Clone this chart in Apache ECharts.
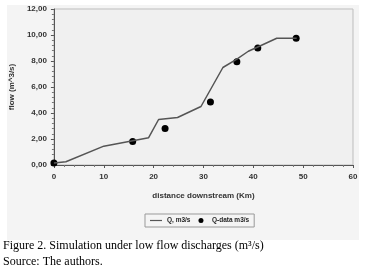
<!DOCTYPE html>
<html>
<head>
<meta charset="utf-8">
<script src="https://cdn.jsdelivr.net/npm/echarts@6/dist/echarts.min.js"></script>
<style>
html, body { margin: 0; padding: 0; background: #fff; }
#main { width: 370px; height: 273px; }
</style>
</head>
<body>
<div id="main"></div>
<script>
// simulated flow (distance km, flow m3/s)
var simDist = [0, 2.4, 10, 19, 21, 24.8, 29.5, 33.9, 36.7, 39, 41, 44.7, 48.7];
var simFlow = [0.15, 0.25, 1.45, 2.1, 3.5, 3.65, 4.5, 7.5, 8.15, 8.75, 9.1, 9.75, 9.75];
// measured points
var obsDist = [0, 15.8, 22.3, 31.4, 36.7, 40.9, 48.6];
var obsFlow = [0.15, 1.8, 2.8, 4.85, 7.95, 9.0, 9.75];

var myChart = echarts.init(document.getElementById('main'));

var lbl = { color: '#333', fontSize: 8, fontWeight: 'bold', fontFamily: 'Liberation Sans' };

option = {
	backgroundColor: '#fff',
	animation: false,
	graphic: [
		{
			type: 'rect', z: -10, silent: true,
			shape: { x: 7, y: 5, width: 352, height: 235 },
			style: { fill: '#f4f4f4' }
		},
		{
			type: 'text', left: 3, top: 240,
			style: { text: 'Figure 2. Simulation under low flow discharges (m³/s)', fill: '#000', font: '12px "Liberation Serif"' }
		},
		{
			type: 'text', left: 3, top: 256,
			style: { text: 'Source: The authors.', fill: '#000', font: '12px "Liberation Serif"' }
		}
	],
	legend: {
		top: 214,
		left: 145,
		itemWidth: 12,
		itemHeight: 5,
		itemGap: 8,
		padding: [3, 5],
		borderColor: '#999',
		borderWidth: 1,
		textStyle: { color: '#222', fontSize: 6.5, fontWeight: 'bold', fontFamily: 'Liberation Sans' },
		data: [
			{ name: 'Q, m3/s', icon: 'path://M0,0H10V1H0Z' },
			{ name: 'Q-data m3/s', icon: 'circle' }
		]
	},
	grid: {
		left: 49.5,
		right: 17,
		top: 9,
		bottom: 108,
		show: true,
		backgroundColor: '#f0f0f0',
		borderColor: '#bdbdbd',
		borderWidth: 1
	},
	xAxis: {
		type: 'value',
		min: 0, max: 60, interval: 10,
		name: 'distance downstream (Km)',
		nameLocation: 'middle',
		nameGap: 27,
		nameTextStyle: lbl,
		axisLine: { lineStyle: { color: '#555' } },
		axisTick: { show: true, length: 3, lineStyle: { color: '#555' } },
		minorTick: { show: true, splitNumber: 5, length: 2, lineStyle: { color: '#777' } },
		axisLabel: Object.assign({ margin: 8 }, lbl),
		splitLine: { show: false }
	},
	yAxis: {
		type: 'value',
		min: 0, max: 12, interval: 2,
		name: 'flow (m^3/s)',
		nameLocation: 'middle',
		nameGap: 32,
		nameTextStyle: lbl,
		axisLine: { show: true, lineStyle: { color: '#555' } },
		axisTick: { show: true, length: 3, lineStyle: { color: '#555' } },
		minorTick: { show: true, splitNumber: 5, length: 2, lineStyle: { color: '#777' } },
		axisLabel: Object.assign({
			margin: 7,
			formatter: function (v) { return v.toFixed(2).replace('.', ','); }
		}, lbl),
		splitLine: { show: false }
	},
	series: [
		{
			name: 'Q, m3/s',
			type: 'line',
			showSymbol: false,
			symbol: 'none',
			itemStyle: { color: '#555' },
			lineStyle: { color: '#555', width: 1.5 },
			data: simDist.map(function (d, i) { return [d, simFlow[i]]; })
		},
		{
			name: 'Q-data m3/s',
			type: 'scatter',
			symbolSize: 7,
			itemStyle: { color: '#000', opacity: 1 },
			data: obsDist.map(function (d, i) { return [d, obsFlow[i]]; })
		}
	]
};

myChart.setOption(option);
window.addEventListener("resize",function(){
    myChart.resize();
});
</script>
</body>
</html>
